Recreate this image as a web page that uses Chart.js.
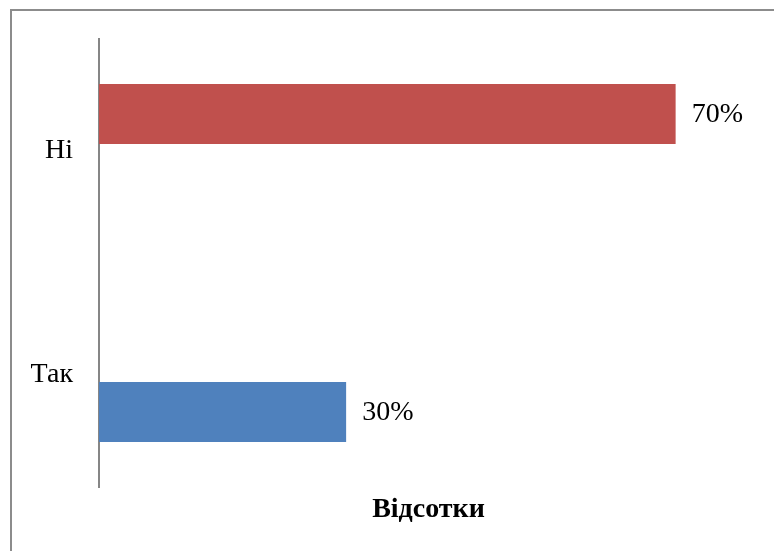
<!DOCTYPE html>
<html lang="uk">

<head>
  <meta charset="UTF-8" />
  <title>Відсотки</title>
  <script src="https://cdn.jsdelivr.net/npm/chart.js@4.4.1/dist/chart.umd.min.js"></script>
  <style>
    body { margin: 0; background: #fff; }
    #wrap { width: 774px; height: 551px; }
  </style>
</head>

<body>
  <div id="wrap"><canvas id="myChart"></canvas></div>

  <script>
    const categories = ['Ні', 'Так'];
    const niValues = [0.7, null];   // red series
    const takValues = [null, 0.3];  // blue series
    const axisTitle = 'Відсотки';

    const serif = '"Liberation Serif", "Times New Roman", serif';

    // frame line along the top and left edge of the picture
    const framePlugin = {
      id: 'frame',
      beforeDraw(chart) {
        const ctx = chart.ctx;
        ctx.save();
        ctx.strokeStyle = '#8c8c8c';
        ctx.lineWidth = 2;
        ctx.beginPath();
        ctx.moveTo(11, chart.height);
        ctx.lineTo(11, 10);
        ctx.lineTo(chart.width, 10);
        ctx.stroke();
        ctx.restore();
      }
    };

    // percent labels to the right of each bar
    const valueLabels = {
      id: 'valueLabels',
      afterDatasetsDraw(chart) {
        const ctx = chart.ctx;
        ctx.save();
        ctx.font = '28px ' + serif;
        ctx.fillStyle = '#000';
        ctx.textAlign = 'left';
        ctx.textBaseline = 'middle';
        chart.data.datasets.forEach((ds, i) => {
          chart.getDatasetMeta(i).data.forEach((bar, j) => {
            const v = ds.data[j];
            if (v == null) return;
            ctx.fillText(Math.round(v * 100) + '%', bar.x + 16, bar.y + 1);
          });
        });
        ctx.restore();
      }
    };

    const ctx = document.getElementById('myChart').getContext('2d');
    new Chart(ctx, {
      type: 'bar',
      data: {
        labels: categories,
        datasets: [{
          data: niValues,
          backgroundColor: '#C0504D',
          categoryPercentage: 0.66,
          barPercentage: 0.81
        }, {
          data: takValues,
          backgroundColor: '#4F81BD',
          categoryPercentage: 0.66,
          barPercentage: 0.81
        }]
      },
      options: {
        indexAxis: 'y',
        responsive: true,
        maintainAspectRatio: false,
        animation: false,
        layout: { padding: { top: 39, right: 16, bottom: 0, left: 0 } },
        plugins: {
          legend: { display: false },
          tooltip: { enabled: false }
        },
        scales: {
          x: {
            min: 0,
            max: 0.8,
            grid: { display: false, drawTicks: false },
            border: { display: false },
            ticks: { display: false },
            title: {
              display: true,
              text: axisTitle,
              color: '#000',
              font: { family: serif, size: 28, weight: 'bold', lineHeight: 1.2 },
              padding: { top: 0, bottom: 24 }
            },
            afterFit(scale) {
              scale.height = 64;
              scale.paddingLeft = 0;
              scale.paddingRight = 0;
            }
          },
          y: {
            grid: { display: false, drawTicks: false },
            border: { display: true, color: '#868686', width: 2 },
            ticks: {
              color: '#000',
              padding: 26,
              font: { family: serif, size: 28 }
            },
            afterFit(scale) {
              scale.width = 99;
              scale.paddingTop = 0;
              scale.paddingBottom = 0;
            }
          }
        }
      },
      plugins: [framePlugin, valueLabels]
    });
  </script>
</body>

</html>
